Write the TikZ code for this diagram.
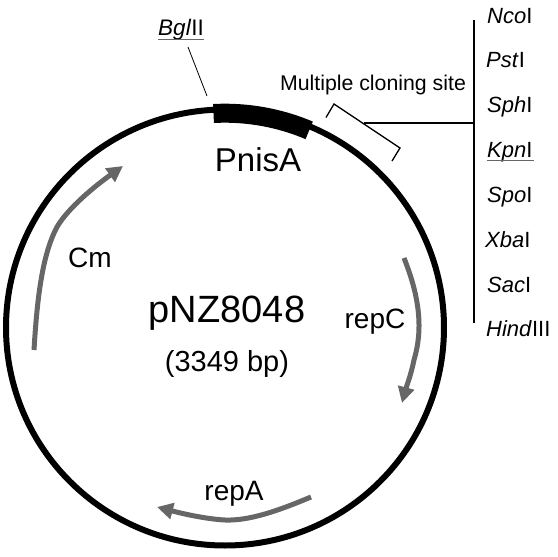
\documentclass[tikz,border=0pt]{standalone}
\usepackage{fontspec}
\setmainfont{Liberation Sans}
\usetikzlibrary{arrows.meta}
\definecolor{genegray}{gray}{0.4}
\tikzset{
  gene/.style={line width=5pt,draw=genegray,-{Triangle[length=16pt,width=16pt]}},
  lbl/.style={anchor=base,inner sep=0pt},
  site/.style={anchor=base west,inner sep=0pt,font=\fontsize{22}{24}\selectfont}
}
\begin{document}
\begin{tikzpicture}[x=1pt,y=-1pt,line cap=butt,line join=miter]
  \useasboundingbox (0,0) rectangle (558,557);
  \coordinate (centre) at (225,327.5);
  \draw[line width=6pt] (centre) ellipse (219 and 218);
  \draw[line width=19pt] (213.5,113.5) arc[start angle=-93,end angle=-67,radius=216];
  % genes
  \draw[gene] (34,350) .. controls (37,300) and (42,255) .. (57,227) .. controls (68,208) and (95,186) .. (123,166);
  \draw[gene] (404,258) .. controls (420,298) and (423,330) .. (414,360) .. controls (411,375) and (406,388) .. (402,403);
  \draw[gene] (311,497) .. controls (280,510) and (250,521) .. (225,520) .. controls (205,519) and (180,513) .. (157,507);
  % labels inside
  \node[lbl,font=\fontsize{38}{40}\selectfont] (plasmid) at (227,322) {pNZ8048};
  \node[lbl,font=\fontsize{29}{31}\selectfont] (size) at (227,371) {(3349 bp)};
  \node[lbl,font=\fontsize{33}{35}\selectfont] (pnisa) at (258,171) {PnisA};
  \node[lbl,font=\fontsize{28}{30}\selectfont] (cm) at (90,267) {Cm};
  \node[lbl,font=\fontsize{28}{30}\selectfont] (repc) at (375,328) {repC};
  \node[lbl,font=\fontsize{28}{30}\selectfont] (repa) at (234,500) {repA};
  % BglII
  \node[lbl,font=\fontsize{22.5}{24}\selectfont] (bgl) at (181,35) {\textit{Bgl}II};
  \coordinate (bgltip) at (207,96);
  \coordinate (bglend) at (188,47);
  \draw[line width=0.8pt] (bglend) -- (bgltip);
  \draw[line width=0.6pt,genegray] (158,39.5) -- (204,39.5);
  % cloning site
  \node[lbl,font=\fontsize{21.3}{23}\selectfont] (mcs) at (373,90) {Multiple cloning site};
  \coordinate (brk) at (364,123);
  \coordinate (junction) at (474,123);
  \draw[line width=1.3pt] (326,117.5) -- (334,104) -- (400,148) -- (392,161);
  \draw[line width=1.5pt] (brk) -- (junction);
  \draw[line width=1.5pt] (474,20) -- (474,323);
  \foreach \name/\italic/\roman/\base/\xpos in {nco/Nco/I/23/487,pst/Pst/I/67/486,sph/Sph/I/112/487,kpn/Kpn/I/157/487,spo/Spo/I/202/487,xba/Xba/I/247/485,sac/Sac/I/292/487,hind/Hind/III/336/486}
    \node[site] (\name) at (\xpos,\base) {\textit{\italic}\roman};
  \draw[line width=0.6pt,genegray] (487,160.5) -- (534,160.5);
\end{tikzpicture}
\end{document}
